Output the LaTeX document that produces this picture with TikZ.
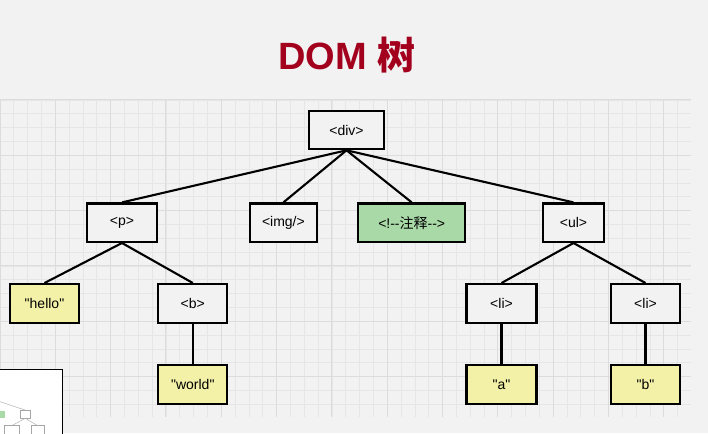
\documentclass[tikz,border=0pt]{standalone}
\usepackage{fontspec}
\setsansfont{Liberation Sans}
\newfontfamily\nodefont{Liberation Sans}
\newfontfamily\cjk{Noto Sans CJK SC}
\usepackage{tikz}
\usetikzlibrary{arrows.meta,calc}
\definecolor{bgcol}{HTML}{F2F2F2}
\definecolor{minorcol}{HTML}{E6E6E6}
\definecolor{majorcol}{HTML}{DCDCDC}
\definecolor{titlecol}{HTML}{A3001E}
\definecolor{notecol}{HTML}{AAD9A8}
\definecolor{leafcol}{HTML}{F3F1A8}

\begin{document}
\begin{tikzpicture}[x=1pt,y=-1pt,
tag/.style={draw,line width=2.1pt,fill=bgcol,minimum width=#1,minimum height=38.5pt,inner sep=0pt,
  font=\nodefont\fontsize{14}{16}\selectfont},
leaf/.style={tag=#1,fill=leafcol},
note/.style={tag=#1,fill=notecol},
link/.style={line width=2.1pt},
minorline/.style={minorcol,line width=0.8pt},
majorline/.style={majorcol,line width=1pt}]
\fill[bgcol] (0,0) rectangle (708,433);
\useasboundingbox (0,0) rectangle (708,433);
% grid
\foreach \i in {0,...,49} \draw[minorline] (13.83*\i,100) -- (13.83*\i,417);
\foreach \j in {0,...,22} \draw[minorline] (0,100+13.83*\j) -- (691,100+13.83*\j);
\foreach \i in {0,...,12} \draw[majorline] (55.32*\i,100) -- (55.32*\i,417);
\foreach \j in {0,...,5} \draw[majorline] (0,100+55.32*\j) -- (691,100+55.32*\j);
\node[anchor=base,text=titlecol,inner sep=0pt,font=\sffamily\bfseries\fontsize{38}{40}\selectfont] (title) at (346.7,69.3) {DOM {\cjk\bfseries 树}};
\node[tag=75] (div) at (346.5,130) {<div>};
\node[tag=70] (p) at (122,222.7) {<p>};
\node[tag=67] (img) at (283.4,222.7) {<img/>};
\node[note=107] (cmt) at (411.7,222.7) {<!--{\cjk 注释}-->};
\node[tag=61] (ul) at (573.5,222.7) {<ul>};
\node[leaf=69] (hello) at (44.5,303.3) {"hello"};
\node[tag=69] (b) at (192.8,303.3) {<b>};
\node[tag=70] (li1) at (501.5,303.3) {<li>};
\node[tag=69] (li2) at (645.5,303.3) {<li>};
\node[leaf=69] (world) at (192.8,384.3) {"world"};
\node[leaf=70] (a) at (501.5,384.3) {"a"};
\node[leaf=69] (bb) at (645.5,384.3) {"b"};
\path[link]
(div.south) edge (p.north)
(div.south) edge (img.north)
(div.south) edge (cmt.north)
(div.south) edge (ul.north)
(p.south) edge (hello.north)
(p.south) edge (b.north)
(b.south) edge (world.north)
(ul.south) edge (li1.north)
(ul.south) edge (li2.north)
(li1.south) edge (a.north)
(li2.south) edge (bb.north);
% thumbnail in the corner
\draw[fill=white,line width=0.8pt] (-1,369.3) rectangle (62.5,434);
\draw[gray!60,line width=0.5pt] (0,401.7) -- (25,410);
\fill[notecol] (0,410.7) rectangle (5,418.3);
\draw[gray!70,line width=0.5pt] (20,410.3) rectangle (30.7,418.3);
\draw[gray!60,line width=0.5pt] (25.3,418.3) -- (11.7,425.7) (25.3,418.3) -- (37.7,425.7);
\draw[gray!70,line width=0.5pt] (4.3,425.7) rectangle (19,434) (31,425.7) rectangle (44.3,434);
\end{tikzpicture}
\end{document}
